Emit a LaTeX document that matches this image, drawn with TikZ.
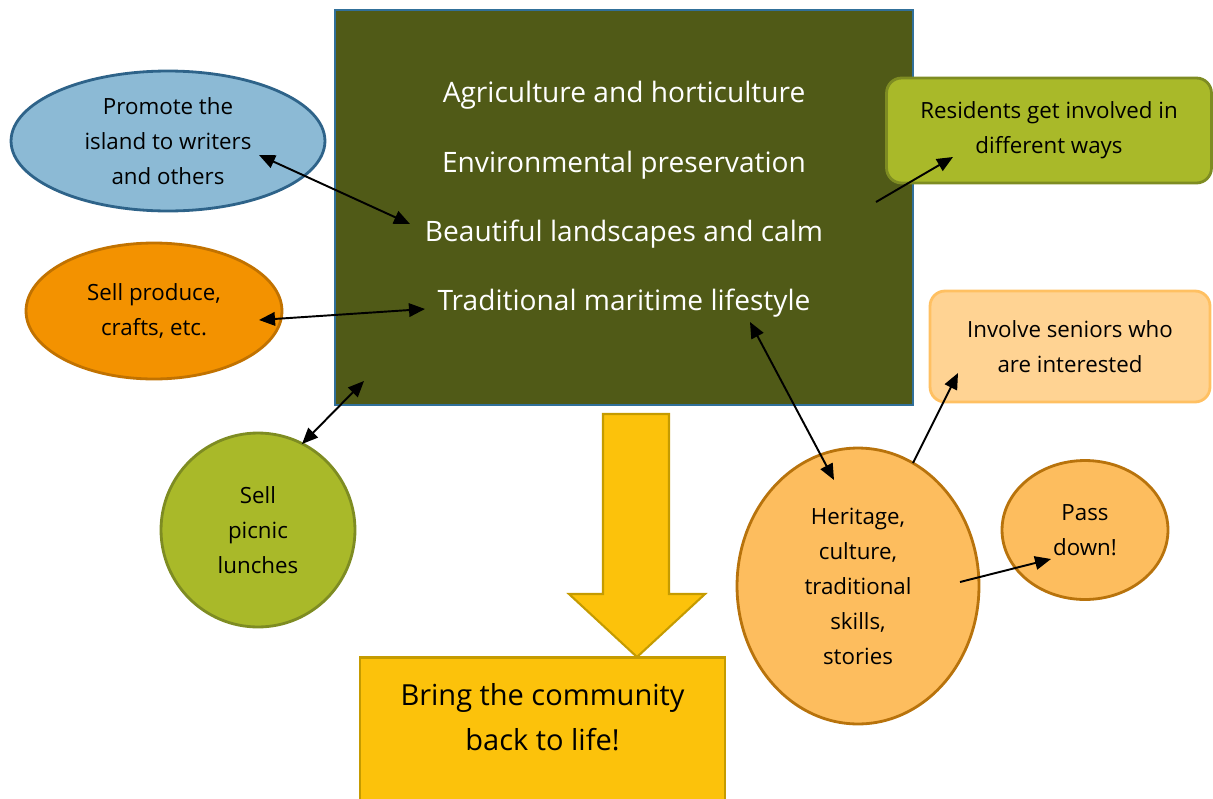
\documentclass[tikz,border=0pt]{standalone}
\usepackage{fontspec}
\setmainfont{Open Sans}
\usetikzlibrary{shapes.geometric,arrows.meta}
\definecolor{boxolive}{HTML}{505A17}
\definecolor{boxblue}{HTML}{31709A}
\definecolor{skyfill}{HTML}{8CBAD5}
\definecolor{skyline}{HTML}{2E6389}
\definecolor{orangefill}{HTML}{F39200}
\definecolor{orangeline}{HTML}{C17200}
\definecolor{limefill}{HTML}{A9B929}
\definecolor{limeline}{HTML}{7E8C22}
\definecolor{peachfill}{HTML}{FFD393}
\definecolor{peachline}{HTML}{FFC062}
\definecolor{apricotfill}{HTML}{FDBD5E}
\definecolor{apricotline}{HTML}{B8730C}
\definecolor{goldfill}{HTML}{FCC20B}
\definecolor{goldline}{HTML}{C59B00}

\begin{document}
\begin{tikzpicture}[x=0.02cm,y=-0.02cm,
  smalltext/.style={align=center,font=\fontsize{12.7}{19.9}\selectfont},
  bigtext/.style={text=white,font=\fontsize{16}{20}\selectfont},
  bubble/.style={ellipse,draw,line width=1.6pt,inner sep=0pt,smalltext},
  roundbox/.style={rectangle,rounded corners=0.3cm,draw,line width=1.6pt,smalltext},
  link/.style={line width=1.1pt,-{Triangle[length=0.32cm,width=0.27cm]}},
  twolink/.style={line width=1.1pt,{Triangle[length=0.32cm,width=0.27cm]}-{Triangle[length=0.32cm,width=0.27cm]}}]
  \useasboundingbox (0,0) rectangle (1213,798);

  \node[rectangle,draw=boxblue,fill=boxolive,line width=1.6pt,
    minimum width=11.56cm,minimum height=7.9cm] (core) at (624,207.5) {};
  \node[bigtext] (agri) at (624,95) {Agriculture and horticulture};
  \node[bigtext] (env) at (624,165) {Environmental preservation};
  \node[bigtext] (land) at (624,234) {Beautiful landscapes and calm};
  \node[bigtext] (trad) at (624,303) {Traditional maritime lifestyle};

  \node[bubble,draw=skyline,fill=skyfill,minimum width=6.28cm,minimum height=2.8cm]
    (promote) at (168,141) {Promote the\\island to writers\\and others};
  \node[bubble,draw=orangeline,fill=orangefill,minimum width=5.12cm,minimum height=2.72cm]
    (produce) at (154,311) {Sell produce,\\crafts, etc.};
  \node[circle,draw=limeline,fill=limefill,line width=1.6pt,inner sep=0pt,smalltext,
    minimum size=3.88cm] (picnic) at (258,530) {Sell\\picnic\\lunches};

  \node[roundbox,draw=limeline,fill=limefill,minimum width=6.5cm,minimum height=2.1cm]
    (residents) at (1049,130.5) {Residents get involved in\\different ways};
  \node[roundbox,draw=peachline,fill=peachfill,minimum width=5.6cm,minimum height=2.22cm]
    (seniors) at (1070,346.5) {Involve seniors who\\are interested};

  \node[bubble,draw=apricotline,fill=apricotfill,minimum width=4.84cm,minimum height=5.52cm]
    (heritage) at (858,586) {Heritage,\\culture,\\traditional\\skills,\\stories};
  \node[bubble,draw=apricotline,fill=apricotfill,minimum width=3.32cm,minimum height=2.78cm]
    (pass) at (1085,530) {Pass\\down!};

  \draw[goldline,fill=goldfill,line width=1.2pt]
    (603,414) -- (669,414) -- (669,594) -- (705,594) -- (637,657)
    -- (569,594) -- (603,594) -- cycle;
  \node[rectangle,draw=goldline,fill=goldfill,line width=1.6pt,
    minimum width=7.3cm,minimum height=3.3cm] (bring) at (542.5,740) {};
  \node[align=center,font=\fontsize{16.5}{25.6}\selectfont] (bringtext) at (542.5,717)
    {Bring the community\\back to life!};

  \coordinate (promotetip) at (259,155);
  \coordinate (landtip) at (410,224);
  \coordinate (producetip) at (259,320);
  \coordinate (tradtip) at (425,309);
  \coordinate (picnictip) at (302,444);
  \coordinate (coretip) at (364,381);
  \coordinate (coreout) at (876,202);
  \coordinate (residentstip) at (953,157);
  \coordinate (lifestyletip) at (750,322);
  \coordinate (heritagetip) at (834,480);
  \coordinate (heritagetop) at (913,463);
  \coordinate (seniorstip) at (958,373);
  \coordinate (heritageout) at (960,582);
  \coordinate (passtip) at (1051,559);

  \draw[twolink] (promotetip) -- (landtip);
  \draw[twolink] (producetip) -- (tradtip);
  \draw[twolink] (picnictip) -- (coretip);
  \draw[link] (coreout) -- (residentstip);
  \draw[twolink] (lifestyletip) -- (heritagetip);
  \draw[link] (heritagetop) -- (seniorstip);
  \draw[link] (heritageout) -- (passtip);
\end{tikzpicture}
\end{document}
